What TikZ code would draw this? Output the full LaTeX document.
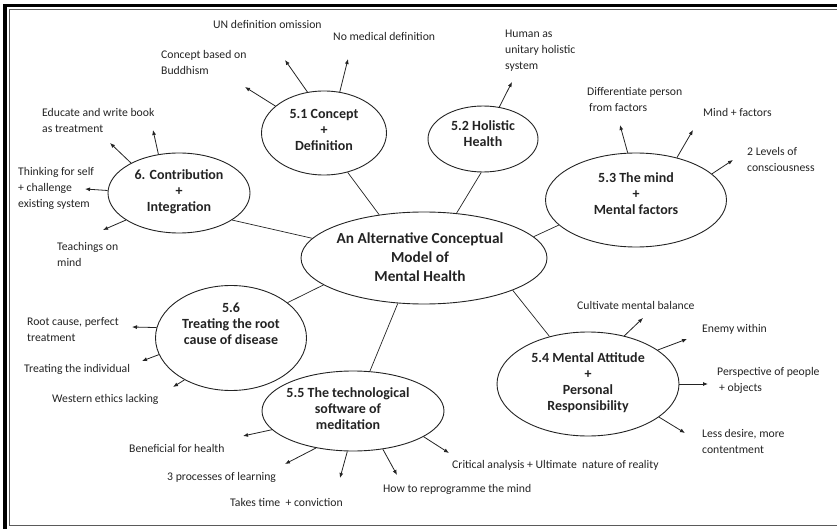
\documentclass[tikz,border=0pt]{standalone}
\usepackage{fontspec}
\setmainfont{Carlito}
\usepackage{xcolor}
\usepackage{tikz}
\usetikzlibrary{arrows.meta,shapes.geometric}
\definecolor{figline}{RGB}{35,35,35}
\definecolor{figframe}{RGB}{90,90,90}
\tikzset{
  topic/.style ={ellipse, draw=figline, line width=0.9pt, inner sep=0pt},
  ttl/.style   ={font=\fontsize{14}{16}\selectfont\bfseries, text=figline, align=center, inner sep=0pt},
  lab/.style   ={font=\fontsize{11.7}{16}\selectfont, text=figline, align=left, anchor=west, inner sep=0pt},
  lnk/.style   ={draw=figline, line width=0.7pt},
  ptr/.style   ={draw=figline, line width=0.8pt, -{Latex[length=5pt,width=4pt]}},
}
\begin{document}
\begin{tikzpicture}[x=1pt,y=-1pt]
  \clip (0,0) rectangle (837,529);
  % frame
  \draw[black,line width=3.5pt] (5,5.5) rectangle (850,545);
  \draw[figframe,line width=1pt] (9.5,10) rectangle (845,525);
  % topics
  \node[topic,minimum width=246pt,minimum height=92pt] (core) at (424,258) {};
  \node[ttl,font=\fontsize{15.3}{19}\selectfont\bfseries] (coret) at (420,257) {An Alternative Conceptual\\Model of\\Mental Health};
  \node[topic,minimum width=125pt,minimum height=84pt] (s51) at (324,133) {};
  \node[ttl] (s51t) at (324,130) {5.1 Concept\\+\\Definition};
  \node[topic,minimum width=110pt,minimum height=66pt] (s52) at (483,139) {};
  \node[ttl] (s52t) at (483,134) {5.2 Holistic\\Health};
  \node[topic,minimum width=181pt,minimum height=94pt] (s53) at (636,200) {};
  \node[ttl] (s53t) at (636,194) {5.3 The mind\\+\\Mental factors};
  \node[topic,minimum width=182pt,minimum height=104pt] (s54) at (588,384) {};
  \node[ttl] (s54t) at (588,383) {5.4 Mental Attitude\\+\\Personal\\Responsibility};
  \node[topic,minimum width=182pt,minimum height=80pt] (s55) at (353,411) {};
  \node[ttl] (s55t) at (348,409) {5.5 The technological\\software of\\meditation};
  \node[topic,minimum width=151pt,minimum height=105pt] (s56) at (231,338) {};
  \node[ttl] (s56t) at (231,324) {5.6\\Treating the root\\cause of disease};
  \node[topic,minimum width=142pt,minimum height=80pt] (s6) at (179,193) {};
  \node[ttl] (s6t) at (179,192) {6. Contribution\\+\\Integration};
  % links to the core
  \draw[lnk] (core.136) -- (s51.301);
  \draw[lnk] (core.54) -- (s52.267);
  \draw[lnk] (core.11) -- (s53.198);
  \draw[lnk] (core.340) -- (s54.129);
  \draw[lnk] (core.240) -- (s55.67);
  \draw[lnk] (core.195) -- (s56.32);
  \draw[lnk] (core.170) -- (s6.333);
  % leaf texts
  \node[lab] (l51a) at (161,62) {Concept based on\\Buddhism};
  \node[lab] (l51b) at (213,24) {UN definition omission};
  \node[lab] (l51c) at (333,36) {No medical definition};
  \node[lab] (l52) at (505,51) {Human as\\unitary holistic\\system};
  \node[lab] (l53a) at (587,99) {Differentiate person\\\hspace{2pt}from factors};
  \node[lab] (l53b) at (703,112) {Mind + factors};
  \node[lab] (l53c) at (747,159) {2 Levels of\\consciousness};
  \node[lab] (l54a) at (577,305) {Cultivate mental balance};
  \node[lab] (l54b) at (702,329) {Enemy within};
  \node[lab] (l54c) at (717,380) {Perspective of people\\\hspace{2pt}+ objects};
  \node[lab] (l54d) at (702,441) {Less desire, more\\contentment};
  \node[lab] (l55a) at (129,448) {Beneficial for health};
  \node[lab] (l55b) at (167,477) {3 processes of learning};
  \node[lab] (l55c) at (230,502) {Takes time \ + conviction};
  \node[lab] (l55d) at (383,489) {How to reprogramme the mind};
  \node[lab] (l55e) at (452,465) {Critical analysis + Ultimate \ nature of reality};
  \node[lab] (l56a) at (27,330) {Root cause, perfect\\treatment};
  \node[lab] (l56b) at (24,369) {Treating the individual};
  \node[lab] (l56c) at (52,399) {Western ethics lacking};
  \node[lab] (l6a) at (42,120) {Educate and write book\\as treatment};
  \node[lab] (l6b) at (18,188) {Thinking for self\\+ challenge\\existing system};
  \node[lab] (l6c) at (57,254) {Teachings on\\mind};
  % arrow tips
  \coordinate (t51a) at (245,87);
  \coordinate (t51b) at (285,60);
  \coordinate (t51c) at (348,59);
  \coordinate (t52) at (512,82);
  \coordinate (t53a) at (620,125);
  \coordinate (t53b) at (693,130);
  \coordinate (t53c) at (733,160);
  \coordinate (t54a) at (643,318);
  \coordinate (t54b) at (687,339);
  \coordinate (t54c) at (708,384);
  \coordinate (t54d) at (685,433);
  \coordinate (t55a) at (243,436);
  \coordinate (t55b) at (285,464);
  \coordinate (t55c) at (340,478);
  \coordinate (t55d) at (397,475);
  \coordinate (t55e) at (449,453);
  \coordinate (t56a) at (132,327);
  \coordinate (t56b) at (142,361);
  \coordinate (t56c) at (173,387);
  \coordinate (t6a) at (110,143);
  \coordinate (t6b) at (153,130);
  \coordinate (t6c) at (85,189);
  \coordinate (t6d) at (103,230);
  % arrows
  \draw[ptr] (s51.151) -- (t51a);
  \draw[ptr] (s51.112) -- (t51b);
  \draw[ptr] (s51.69) -- (t51c);
  \draw[ptr] (s52.63) -- (t52);
  \draw[ptr] (s53.100) -- (t53a);
  \draw[ptr] (s53.46) -- (t53b);
  \draw[ptr] (s53.19) -- (t53c);
  \draw[ptr] (s54.53) -- (t54a);
  \draw[ptr] (s54.26) -- (t54b);
  \draw[ptr] (s54.0) -- (t54c);
  \draw[ptr] (s54.335) -- (t54d);
  \draw[ptr] (s55.193) -- (t55a);
  \draw[ptr] (s55.225) -- (t55b);
  \draw[ptr] (s55.262) -- (t55c);
  \draw[ptr] (s55.308) -- (t55d);
  \draw[ptr] (s55.340) -- (t55e);
  \draw[ptr] (s56.172) -- (t56a);
  \draw[ptr] (s56.193) -- (t56b);
  \draw[ptr] (s56.222) -- (t56c);
  \draw[ptr] (s6.148) -- (t6a);
  \draw[ptr] (s6.118) -- (t6b);
  \draw[ptr] (s6.178) -- (t6c);
  \draw[ptr] (s6.207) -- (t6d);
\end{tikzpicture}
\end{document}
